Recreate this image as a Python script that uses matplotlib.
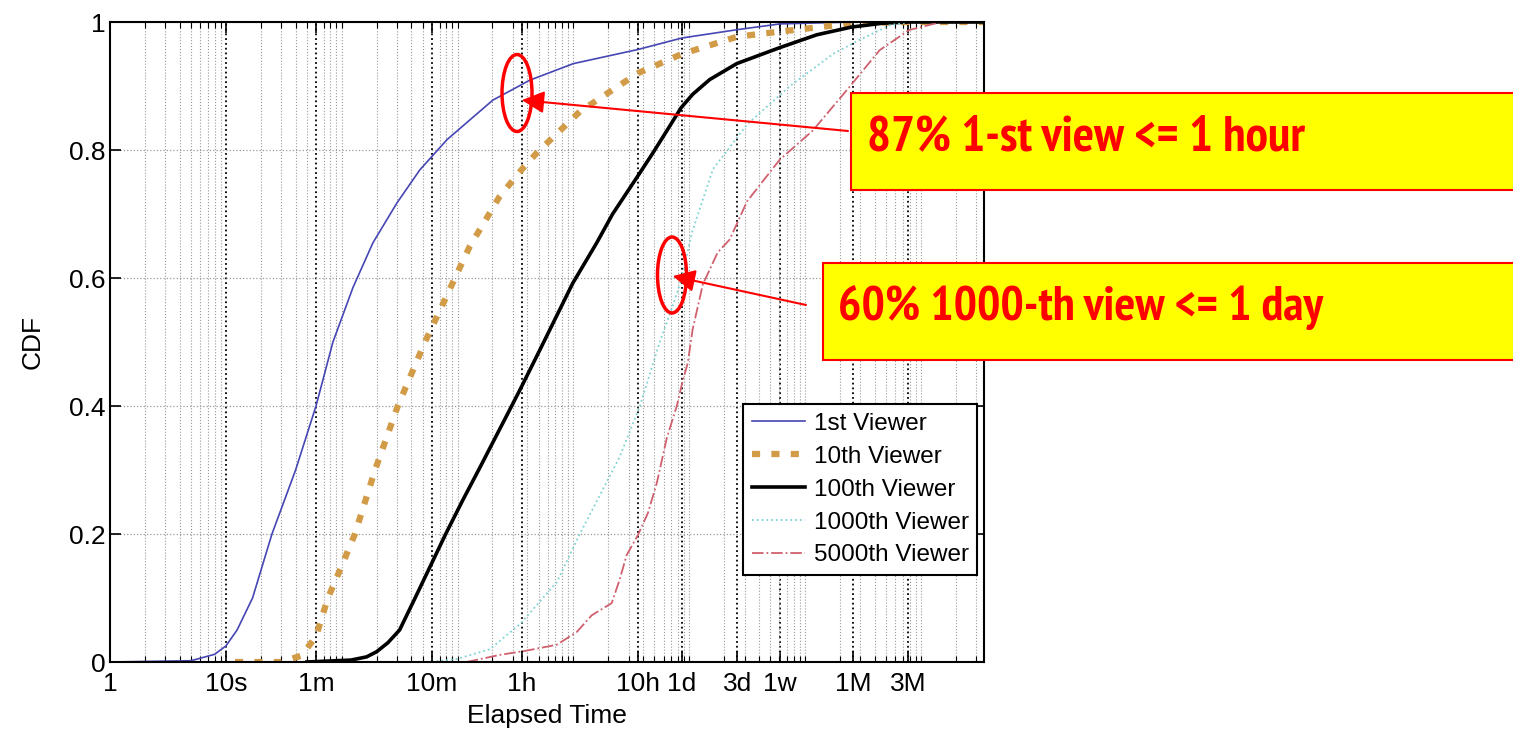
import matplotlib
matplotlib.use("Agg")
import logging
import matplotlib.pyplot as plt
from matplotlib.patches import Ellipse, Rectangle
from matplotlib.ticker import LogLocator, NullFormatter

logging.getLogger('matplotlib.font_manager').setLevel(logging.ERROR)
plt.rcParams['font.family'] = ['Liberation Sans', 'DejaVu Sans']

# elapsed time in seconds, CDF values
first_t = [1, 5, 8, 10, 12.5, 17, 25, 40, 60, 84, 125, 186, 299, 473, 809, 1277, 2018,
           3240, 4190, 10000, 36000, 86400, 259200, 604800, 2.6e6, 3.5e7]
first_cdf = [0, 0.002, 0.012, 0.025, 0.05, 0.1, 0.2, 0.3, 0.40, 0.5, 0.585, 0.655, 0.717, 0.769,
             0.816, 0.847, 0.878, 0.898, 0.909, 0.935, 0.957, 0.975, 0.988, 0.997, 1.0, 1.0]

tenth_t = [12, 30, 45, 60, 76, 100, 130, 194, 305, 523, 750, 1050, 1280, 1550, 2300, 3600,
           4800, 11350, 36000, 86400, 259200, 604800, 2.6e6, 7.8e6, 3.5e7]
tenth_cdf = [0, 0, 0.01, 0.04, 0.1, 0.15, 0.2, 0.3, 0.4, 0.5, 0.56, 0.617, 0.65, 0.675, 0.727,
             0.77, 0.795, 0.86, 0.92, 0.95, 0.977, 0.985, 0.998, 1.0, 1.0]

hundredth_t = [50, 120, 164, 200, 250, 316, 430, 790, 1110, 1520, 2930, 3450, 5130, 9880,
               15900, 21800, 37400, 48400, 64000, 85000, 107000, 150000, 257000, 604800,
               1.26e6, 2.5e6, 4.6e6, 8e6, 3.5e7]
hundredth_cdf = [0, 0.003, 0.008, 0.016, 0.03, 0.05, 0.1, 0.2, 0.253, 0.3, 0.4, 0.425, 0.4875,
                 0.592, 0.655, 0.70, 0.764, 0.795, 0.83, 0.866, 0.887, 0.91, 0.935, 0.96,
                 0.98, 0.992, 0.998, 1.0, 1.0]

thousandth_t = [600, 1000, 1900, 3500, 7200, 11350, 25000, 37500, 55600, 70000, 86400, 105000,
                160000, 316000, 740000, 1.74e6, 2.8e6, 5.4e6, 8e6, 3.5e7]
thousandth_cdf = [0, 0.005, 0.02, 0.06, 0.125, 0.2, 0.32, 0.4, 0.5, 0.55, 0.6, 0.67,
                  0.77, 0.84, 0.9, 0.95, 0.97, 0.995, 1.0, 1.0]

fivek_t = [1200, 2300, 4000, 7200, 10700, 14400, 21400, 25000, 28800, 36000, 44000, 52500,
           64000, 78000, 88000, 97000, 107000, 131000, 176000, 223000, 316000, 604800,
           1.16e6, 2.3e6, 4.4e6, 7.9e6, 1.5e7, 3.5e7]
fivek_cdf = [0, 0.011, 0.018, 0.027, 0.047, 0.073, 0.092, 0.128, 0.167, 0.198, 0.233, 0.28,
             0.35, 0.40, 0.44, 0.467, 0.52, 0.59, 0.64, 0.66, 0.72, 0.785,
             0.83, 0.894, 0.956, 0.9875, 1.0, 1.0]

tick_seconds = [1, 10, 60, 600, 3600, 36000, 86400, 259200, 604800, 2592000, 7776000]
tick_labels = ['1', '10s', '1m', '10m', '1h', '10h', '1d', '3d', '1w', '1M', '3M']

W, H = 1513, 735


def px(x, y):
    return (x / W, 1 - y / H)


fig = plt.figure(figsize=(W / 100, H / 100), dpi=100)
ax = fig.add_axes([110 / W, 1 - 662 / H, 874 / W, 640 / H])
ax.set_axisbelow(True)

ax.plot(first_t, first_cdf, color='#4646b4', lw=1.2, label='1st Viewer')
ax.plot(tenth_t, tenth_cdf, color='#d29b48', lw=4.5, ls=(0, (1.3, 1.8)), label='10th Viewer')
ax.plot(hundredth_t, hundredth_cdf, color='black', lw=2.6, label='100th Viewer')
ax.plot(thousandth_t, thousandth_cdf, color='#7fd3d3', lw=1.3, ls=':', label='1000th Viewer')
ax.plot(fivek_t, fivek_cdf, color='#d0606e', lw=1.3, ls='-.', label='5000th Viewer')

ax.set_xscale('log')
ax.set_xlim(1, 3.5e7)
ax.set_ylim(0, 1)
ax.set_xticks(tick_seconds, tick_labels)
ax.xaxis.set_minor_locator(LogLocator(base=10, subs=range(1, 10), numticks=30))
ax.xaxis.set_minor_formatter(NullFormatter())
ax.set_yticks([0, 0.2, 0.4, 0.6, 0.8, 1], ['0', '0.2', '0.4', '0.6', '0.8', '1'])

ax.grid(True, which='major', axis='x', color='black', ls=':', lw=1.3)
ax.grid(True, which='minor', axis='x', color='#9a9a9a', ls=':', lw=0.8)
ax.grid(True, which='major', axis='y', color='#9a9a9a', ls=':', lw=0.9)

ax.tick_params(which='both', direction='in', top=True, right=True, labelsize=19)
ax.tick_params(which='major', length=8, width=1.2)
ax.tick_params(which='minor', length=4, width=0.8)
ax.tick_params(axis='x', pad=7)
ax.tick_params(axis='y', pad=3)
for s in ax.spines.values():
    s.set_linewidth(1.5)

ax.set_xlabel('Elapsed Time', fontsize=19, labelpad=6)
ax.set_ylabel('CDF', fontsize=19, labelpad=18)

leg = ax.legend(loc='lower right', bbox_to_anchor=(0.992, 0.136), fontsize=17.5, fancybox=False,
                edgecolor='black', framealpha=1, borderaxespad=0, handlelength=2.2,
                handletextpad=0.35, labelspacing=0.45, borderpad=0.35)
leg.get_frame().set_linewidth(1.5)

# callouts
arrow_style = dict(arrowstyle='-|>', color='red', lw=1.5, mutation_scale=34, shrinkA=0, shrinkB=0)
ax.annotate('', xy=(3590, 0.878), xycoords='data', xytext=px(848, 131),
            textcoords='figure fraction', annotation_clip=False, arrowprops=arrow_style)
ax.annotate('', xy=(72000, 0.603), xycoords='data', xytext=px(806, 305),
            textcoords='figure fraction', annotation_clip=False, arrowprops=arrow_style)

fig.add_artist(Ellipse(px(517, 93), 30 / W, 77 / H, transform=fig.transFigure,
                       fill=False, ec='red', lw=2.5, zorder=5))
fig.add_artist(Ellipse(px(672, 275), 29 / W, 76 / H, transform=fig.transFigure,
                       fill=False, ec='red', lw=2.5, zorder=5))

fig.add_artist(Rectangle(px(851, 190), (1530 - 851) / W, 97 / H, transform=fig.transFigure,
                         fc='yellow', ec='red', lw=1.5, zorder=5))
fig.add_artist(Rectangle(px(823, 360), (1530 - 823) / W, 97 / H, transform=fig.transFigure,
                         fc='yellow', ec='red', lw=1.5, zorder=5))

callout_font = ['Gill Sans', 'Gill Sans MT', 'PT Sans Narrow', 'Cabin Condensed', 'Lato',
                'DejaVu Sans']
t1 = fig.text(*px(867, 138), '87% 1-st view <= 1 hour', color='red', fontsize=36,
              fontweight='bold', family=callout_font, va='center', ha='left', zorder=6)
t2 = fig.text(*px(838, 308), '60% 1000-th view <= 1 day', color='red', fontsize=36,
              fontweight='bold', family=callout_font, va='center', ha='left', zorder=6)

# fit the callout text to the width it has in the original, without growing too tall
fig.canvas.draw()
renderer = fig.canvas.get_renderer()
for txt, target in [(t1, 438), (t2, 485)]:
    w = txt.get_window_extent(renderer).width
    txt.set_fontsize(min(39, 36 * target / w))

fig.savefig('out.png', dpi=100)
